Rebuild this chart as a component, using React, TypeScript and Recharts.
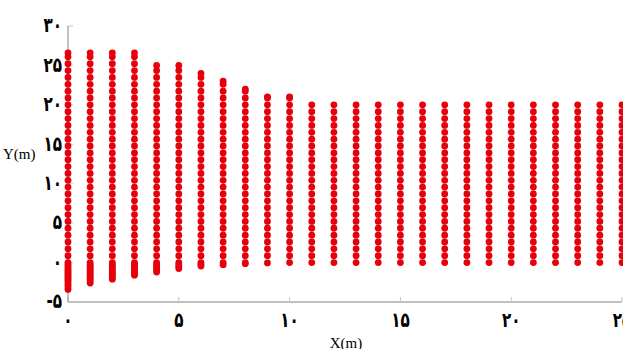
import { Scatter, ScatterChart, XAxis, YAxis } from "recharts";

// mesh columns, one per metre along X
const columnX = [0, 1, 2, 3, 4, 5, 6, 7, 8, 9, 10, 11, 12, 13, 14, 15, 16, 17, 18, 19, 20, 21, 22, 23, 24, 25];
const columnTop = [26.6, 26.6, 26.6, 26.6, 25, 25, 24, 23, 22, 21, 21, 20, 20, 20, 20, 20, 20, 20, 20, 20, 20, 20, 20, 20, 20, 20];
const columnBottom = [-3.4, -2.6, -2.1, -1.6, -1.2, -0.75, -0.45, -0.27, -0.14, -0.05, 0, 0, 0, 0, 0, 0, 0, 0, 0, 0, 0, 0, 0, 0, 0, 0];

// node rows shared by the columns (dense below zero)
const meshRows = [
  -3.4, -3.1, -2.85, -2.6, -2.35, -2.1, -1.85, -1.6, -1.4, -1.2, -1.0, -0.75, -0.5, -0.25,
  0, 0.87, 1.74, 2.61, 3.48, 4.35, 5.22, 6.09, 6.96, 7.83, 8.7, 9.57, 10.43, 11.3, 12.17,
  13.04, 13.91, 14.78, 15.65, 16.52, 17.39, 18.26, 19.13, 20, 20.87, 21.74, 22.61, 23.48,
  24.35, 25.22, 26.09,
];

const xTicks = [0, 5, 10, 15, 20, 25];
const xTickLabels = ["۰", "۵", "۱۰", "۱۵", "۲۰", "۲۵"];
const yTicks = [-5, 0, 5, 10, 15, 20, 25, 30];
const yTickLabels = ["-۵", "۰", "۵", "۱۰", "۱۵", "۲۰", "۲۵", "۳۰"];

const RED = "#e6000c";
const AXIS = "#808080";
const TICK = "#c4c4c4";

const nodes = columnX.flatMap((x, i) => {
  const inner = meshRows.filter((y) => y > columnBottom[i] + 0.08 && y < columnTop[i] - 0.08);
  return [columnBottom[i], ...inner, columnTop[i]].map((y) => ({ x, y }));
});

function Dot(props: any) {
  return <circle cx={props.cx} cy={props.cy} r={3.4} fill={RED} />;
}

// tall narrow digits, closer to the naskh face of the original
function XTick(props: any) {
  const label = xTickLabels[xTicks.indexOf(props.payload.value)];
  return (
    <g transform={`translate(${props.x},${props.y})`}>
      <text
        transform="scale(0.95,1.3)"
        textAnchor="middle"
        dy="0.74em"
        fontSize={16}
        fontWeight={700}
        fontFamily="DejaVu Sans"
        fill="#000"
      >
        {label}
      </text>
    </g>
  );
}

function YTick(props: any) {
  const label = yTickLabels[yTicks.indexOf(props.payload.value)];
  return (
    <g transform={`translate(${props.x},${props.y})`}>
      <text
        transform="scale(0.95,1.3)"
        textAnchor="end"
        dy="0.3em"
        fontSize={16}
        fontWeight={700}
        fontFamily="DejaVu Sans"
        fill="#000"
      >
        {label}
      </text>
    </g>
  );
}

export default function App() {
  return (
    <div style={{ position: "absolute", left: 0, top: 0, background: "#fff" }}>
      <ScatterChart width={623} height={349} margin={{ top: 26, right: 1, bottom: 0, left: 0 }}>
        <XAxis
          xAxisId="bottom"
          type="number"
          dataKey="x"
          domain={[0, 25]}
          ticks={xTicks}
          interval={0}
          height={47}
          tickSize={-5}
          tickMargin={15}
          stroke={AXIS}
          tickLine={{ stroke: TICK }}
          tick={<XTick />}
          label={{
            content: () => (
              <text x={346} y={348} textAnchor="middle" fontSize={15} fontFamily="Liberation Serif" fill="#000">
                X(m)
              </text>
            ),
          }}
        />
        <XAxis
          xAxisId="top"
          orientation="top"
          type="number"
          domain={[0, 25]}
          ticks={xTicks}
          interval={0}
          height={0}
          tickSize={-5}
          stroke={AXIS}
          tickLine={{ stroke: TICK }}
          tickFormatter={() => ""}
        />
        <YAxis
          yAxisId="left"
          type="number"
          dataKey="y"
          domain={[-5, 30]}
          ticks={yTicks}
          interval={0}
          width={68}
          tickSize={-5}
          tickMargin={11}
          stroke={AXIS}
          tickLine={{ stroke: TICK }}
          tick={<YTick />}
          label={{
            content: () => (
              <text x={3} y={159} fontSize={15} fontFamily="Liberation Serif" fill="#000">
                Y(m)
              </text>
            ),
          }}
        />
        <YAxis
          yAxisId="right"
          orientation="right"
          type="number"
          domain={[-5, 30]}
          ticks={yTicks}
          interval={0}
          width={0}
          tickSize={-5}
          stroke={AXIS}
          tickLine={{ stroke: TICK }}
          tickFormatter={() => ""}
        />
        <Scatter
          xAxisId="bottom"
          yAxisId="left"
          data={nodes}
          fill={RED}
          shape={Dot}
          isAnimationActive={false}
        />
      </ScatterChart>
    </div>
  );
}
